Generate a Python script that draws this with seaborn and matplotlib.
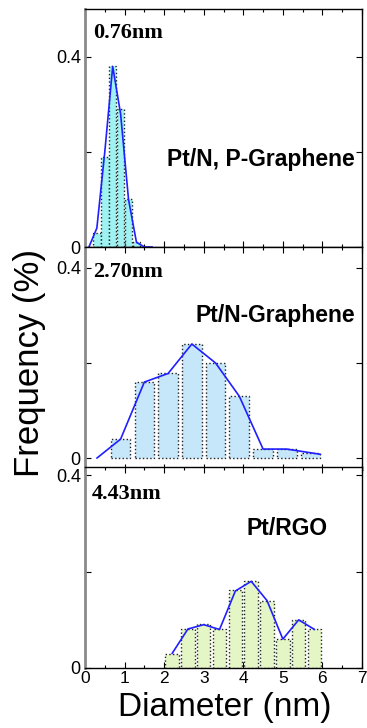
import matplotlib
matplotlib.use("Agg")
import matplotlib.pyplot as plt
from matplotlib.ticker import MultipleLocator, FixedLocator
import seaborn as sns
import pandas as pd

# ---- data ----
p1_x = [0.3, 0.5, 0.7, 0.9, 1.1, 1.3]
p1_y = [0.03, 0.19, 0.38, 0.29, 0.10, 0.01]
p1_line_x = [0.1, 0.3, 0.5, 0.7, 0.9, 1.1, 1.3, 1.5, 1.7]
p1_line_y = [0.0, 0.04, 0.20, 0.38, 0.28, 0.10, 0.01, 0.0, 0.0]

p2_x = [0.9, 1.5, 2.1, 2.7, 3.3, 3.9, 4.5, 5.1, 5.7]
p2_y = [0.04, 0.16, 0.18, 0.24, 0.20, 0.13, 0.019, 0.019, 0.01]
p2_line_x = [0.3, 0.9, 1.5, 2.1, 2.7, 3.3, 3.9, 4.5, 5.1, 5.95]
p2_line_y = [0.0, 0.04, 0.16, 0.178, 0.24, 0.20, 0.13, 0.019, 0.019, 0.008]

p3_x = [2.2, 2.6, 3.0, 3.4, 3.8, 4.2, 4.6, 5.0, 5.4, 5.8]
p3_y = [0.03, 0.081, 0.091, 0.081, 0.161, 0.181, 0.14, 0.061, 0.10, 0.08]
p3_line_x = p3_x
p3_line_y = [0.03, 0.081, 0.09, 0.08, 0.16, 0.18, 0.14, 0.06, 0.10, 0.08]

sizes = ["0.76nm", "2.70nm", "4.43nm"]
names = ["Pt/N, P-Graphene", "Pt/N-Graphene", "Pt/RGO"]
xticks = [0, 1, 2, 3, 4, 5, 6, 7]

sns.set_style("ticks")
plt.rcParams['font.family'] = ['Liberation Sans', 'DejaVu Sans']
plt.rcParams.update({"text.color": "black", "axes.labelcolor": "black",
                     "xtick.color": "black", "ytick.color": "black"})

fig = plt.figure(figsize=(3.67, 7.28), dpi=100)
L, W = 85 / 367, 277 / 367
H = 728
ax1 = fig.add_axes([L, 1 - 247 / H, W, 238 / H])
ax2 = fig.add_axes([L, 1 - 470 / H, W, 223 / H])
ax3 = fig.add_axes([L, 1 - 668 / H, W, 201 / H])

panels = [
    (ax1, p1_x, p1_y, p1_line_x, p1_line_y, "#9ef2f2", 0.95, (0, 0.501)),
    (ax2, p2_x, p2_y, p2_line_x, p2_line_y, "#c6e7fa", 0.83, (-0.025, 0.444)),
    (ax3, p3_x, p3_y, p3_line_x, p3_line_y, "#e4f6c6", 0.85, (0, 0.4175)),
]
text_pos = [
    ((0.029, 0.90), (0.975, 0.366)),
    ((0.029, 0.888), (0.975, 0.695)),
    ((0.026, 0.866), (0.877, 0.693)),
]

for i, (ax, bx, by, lx, ly, col, w, ylim) in enumerate(panels):
    df = pd.DataFrame({"d": bx, "f": by})
    sns.barplot(data=df, x="d", y="f", native_scale=True, width=w,
                color=col, saturation=1, errorbar=None, ax=ax,
                edgecolor="#222222", linewidth=1.0, linestyle=":")
    sns.lineplot(x=lx, y=ly, ax=ax, color="#1f1fff", lw=1.2)
    ax.set_xlim(0, 7)
    ax.set_ylim(*ylim)
    ax.xaxis.set_major_locator(FixedLocator(xticks))
    ax.xaxis.set_minor_locator(MultipleLocator(0.5))
    ax.yaxis.set_major_locator(FixedLocator([0, 0.2, 0.4]))
    ax.set_yticklabels(["0", "", "0.4"])
    ax.tick_params(axis="x", which="both", direction="in", top=True, bottom=True,
                   labelsize=12.5, pad=2, color="black")
    ax.tick_params(axis="x", which="major", length=4, width=0.8)
    ax.tick_params(axis="x", which="minor", length=2, width=0.8)
    ax.tick_params(axis="y", which="major", direction="in", right=True, left=True,
                   length=4, width=0.8, labelsize=13, pad=3)
    ax.set_xlabel("")
    ax.set_ylabel("")
    for s in ["top", "right", "bottom"]:
        ax.spines[s].set_color("black")
        ax.spines[s].set_linewidth(1.0)
    ax.spines["left"].set_color("#8a8a8a")
    ax.spines["left"].set_linewidth(2.0)
    if i < 2:
        ax.tick_params(axis="x", labelbottom=False)
    (sx, sy), (nx, ny) = text_pos[i]
    ax.text(sx, sy, sizes[i], transform=ax.transAxes, ha="left", va="center",
            fontsize=16, fontweight="bold", family=["Liberation Serif", "DejaVu Serif"])
    ax.text(nx, ny, names[i], transform=ax.transAxes, ha="right", va="center",
            fontsize=16.5, fontweight="bold")

ax3.set_xlabel("Diameter (nm)", fontsize=24, va="center")
ax3.xaxis.set_label_coords(0.505, -0.195)
ax2.set_ylabel("Frequency (%)", fontsize=25, va="center")
ax2.yaxis.set_label_coords(-0.202, 0.48)

fig.savefig("out.png", dpi=100)
